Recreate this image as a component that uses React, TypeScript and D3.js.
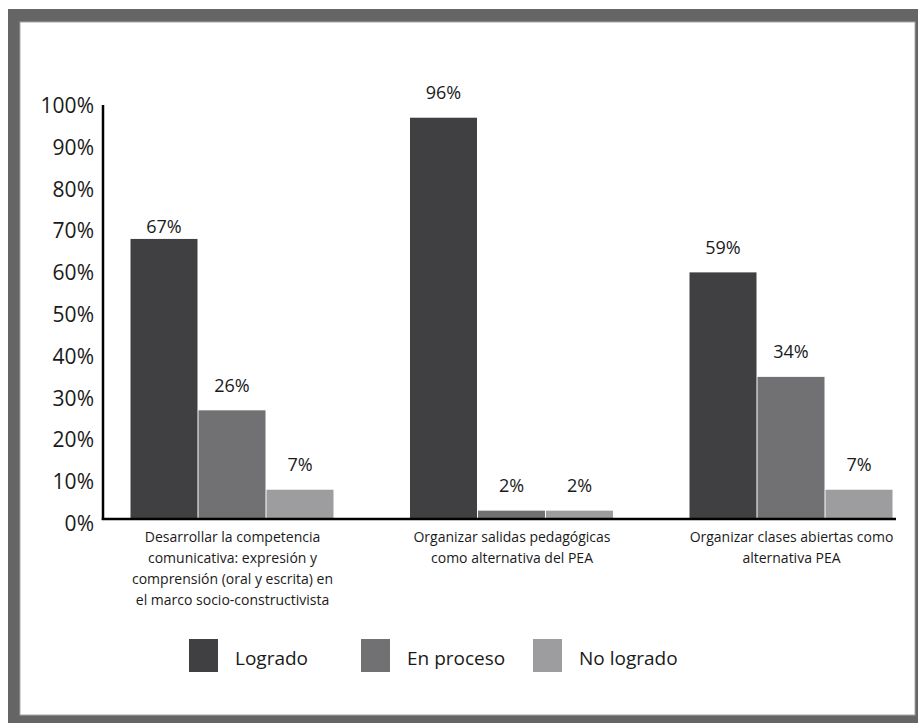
import React from "react";
import * as d3 from "d3";

const categories = [
  "Desarrollar la competencia comunicativa: expresión y comprensión (oral y escrita) en el marco socio-constructivista",
  "Organizar salidas pedagógicas como alternativa del PEA",
  "Organizar clases abiertas como alternativa PEA",
];
const categoryLines = [
  ["Desarrollar la competencia", "comunicativa: expresión y", "comprensión (oral y escrita) en", "el marco socio-constructivista"],
  ["Organizar salidas pedagógicas", "como alternativa del PEA"],
  ["Organizar clases abiertas como", "alternativa PEA"],
];
const series = ["Logrado", "En proceso", "No logrado"];
const logrado = [67, 96, 59];
const enProceso = [26, 2, 34];
const noLogrado = [7, 2, 7];
const yTicks = [0, 10, 20, 30, 40, 50, 60, 70, 80, 90, 100];
const colors = ["#404042", "#717173", "#9d9d9f"];

const W = 918;
const H = 723;
const FONT = "'Open Sans', 'DejaVu Sans', sans-serif";

export default function App() {
  const values = [logrado, enProceso, noLogrado];
  const x0 = d3.scaleBand<string>().domain(categories).range([92.75, 931.25]).padding(0);
  const groupW = 204;
  const groupOff = (x0.bandwidth() - groupW) / 2;
  const x1 = d3.scaleBand<string>().domain(series).range([0, groupW]).padding(0);
  const y = d3.scaleLinear().domain([0, 100]).range([519, 101]);

  const axisLeft = 103;
  const axisRight = 896;

  const legendX = [189, 361, 533];

  return (
    <svg
      width={W}
      height={H}
      style={{ position: "absolute", left: 0, top: 0 }}
      fontFamily={FONT}
    >
      <rect x={0} y={0} width={W} height={H} fill="#ffffff" />
      <rect x={8} y={9} width={W - 8} height={H - 9} fill="#656565" />
      <rect x={20} y={22} width={895} height={693} fill="#ffffff" stroke="#a8a8a8" strokeWidth={1} />

      {/* bars */}
      {categories.map((c, gi) =>
        series.map((s, si) => {
          const v = values[si][gi];
          const bx = (x0(c) as number) + groupOff + (x1(s) as number);
          const bw = x1.bandwidth() - 1;
          const top = y(v);
          const gap = gi === 0 && si === 0 ? 5.5 : 18.5;
          return (
            <g key={c + s}>
              <rect x={bx} y={top} width={bw} height={y(0) - top} fill={colors[si]} />
              <text
                x={bx + bw / 2}
                y={top - gap}
                textAnchor="middle"
                fontSize={18}
                fill="#1a1a1a"
              >
                {v}%
              </text>
            </g>
          );
        })
      )}

      {/* axes */}
      <line x1={axisLeft} x2={axisLeft} y1={105} y2={y(0) + 1} stroke="#000" strokeWidth={2.5} />
      <line x1={axisLeft - 1.25} x2={axisRight} y1={y(0)} y2={y(0)} stroke="#000" strokeWidth={2.5} />

      {yTicks.map((t) => (
        <text key={t} x={94} y={y(t) + 12} textAnchor="end" fontSize={21} fill="#1a1a1a">
          {t}%
        </text>
      ))}

      {/* category labels */}
      {categories.map((c, gi) => (
        <text
          key={c}
          x={(x0(c) as number) + x0.bandwidth() / 2}
          y={542}
          textAnchor="middle"
          fontSize={14}
          fill="#1a1a1a"
        >
          {categoryLines[gi].map((l, li) => (
            <tspan key={li} x={(x0(c) as number) + x0.bandwidth() / 2} dy={li === 0 ? 0 : 21}>
              {l}
            </tspan>
          ))}
        </text>
      ))}

      {/* legend */}
      {series.map((s, si) => (
        <g key={s}>
          <rect x={legendX[si]} y={639} width={29} height={33} fill={colors[si]} />
          <text x={legendX[si] + 46} y={665} fontSize={19} fill="#1a1a1a">
            {s}
          </text>
        </g>
      ))}
    </svg>
  );
}
